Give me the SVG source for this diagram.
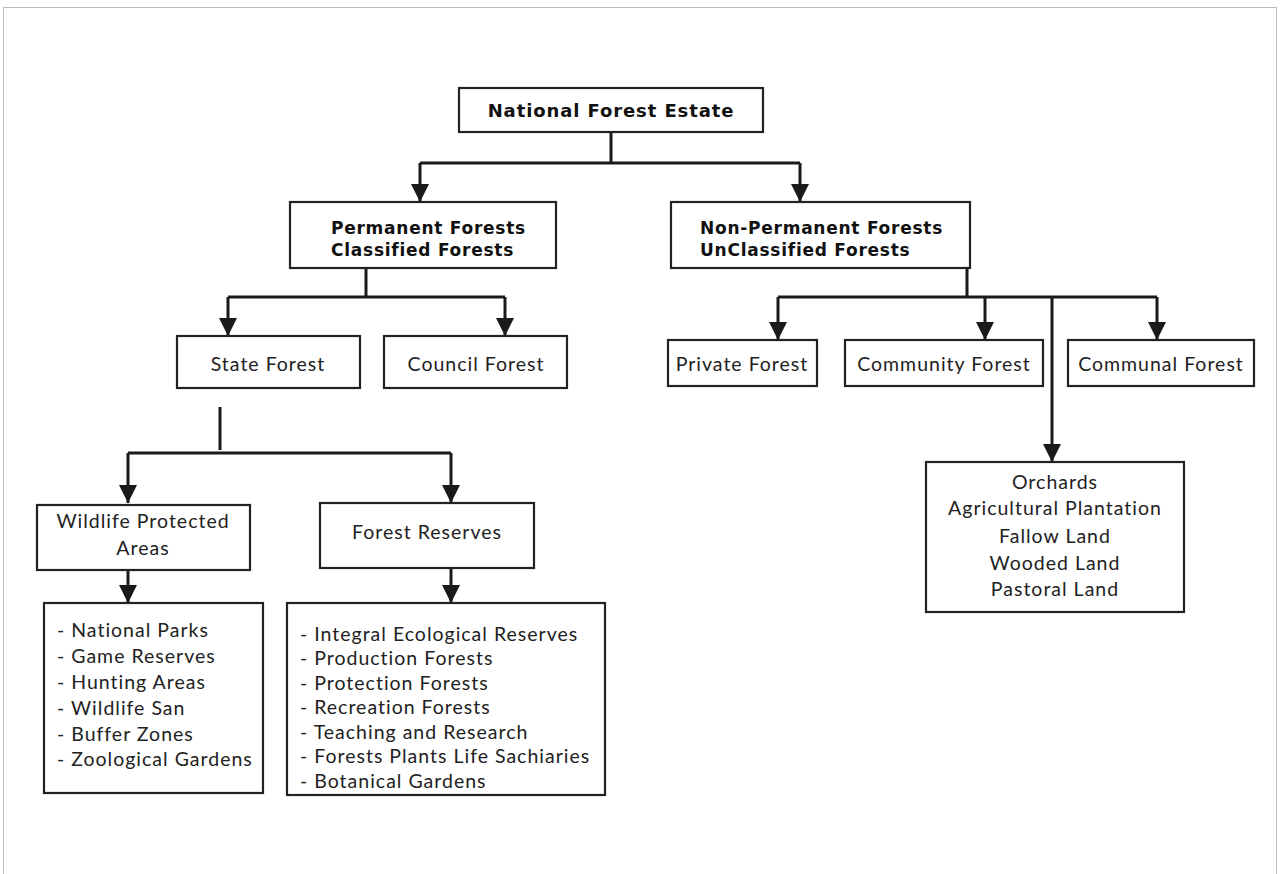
<svg xmlns="http://www.w3.org/2000/svg" width="1281" height="874" viewBox="0 0 1281 874">
<defs>
<style>
.box{fill:#fff;stroke:#222;stroke-width:2.2}
.t{font-family:Lato,"Open Sans",sans-serif;font-size:19.5px;letter-spacing:1px;fill:#222}
.b{font-family:"DejaVu Sans","Open Sans",sans-serif;font-size:17px;letter-spacing:0.75px;font-weight:bold;fill:#111}
.c{text-anchor:middle}
.ln{fill:none;stroke:#1a1a1a;stroke-width:3}
.ar{fill:none;stroke:#1a1a1a;stroke-width:3;marker-end:url(#ah)}
</style>
<marker id="ah" viewBox="0 0 18 18" refX="18" refY="9" markerWidth="18" markerHeight="18" markerUnits="userSpaceOnUse" orient="auto">
<path d="M0,0 L18,9 L0,18 z" fill="#1a1a1a"/>
</marker>
</defs>
<rect x="0" y="0" width="1281" height="874" fill="#fff"/>
<rect x="3.5" y="7.5" width="1273" height="880" fill="none" stroke="#bdbdbd" stroke-width="1"/>

<g id="connectors">
<path class="ln" d="M611,132 V163 M420,163 H800"/>
<path class="ar" d="M420,163 V202"/>
<path class="ar" d="M800,163 V202"/>
<path class="ln" d="M366,268 V297 M228,297 H505"/>
<path class="ar" d="M228,297 V336"/>
<path class="ar" d="M505,297 V336"/>
<path class="ln" d="M220,407 V450 M128,453 H451"/>
<path class="ar" d="M128,453 V503"/>
<path class="ar" d="M451,453 V503"/>
<path class="ar" d="M128,570 V603"/>
<path class="ar" d="M451,568 V603"/>
<path class="ln" d="M967,268 V297 M778,297 H1157"/>
<path class="ar" d="M778,297 V340"/>
<path class="ar" d="M985,297 V340"/>
<path class="ar" d="M1157,297 V340"/>
<path class="ar" d="M1052,297 V462"/>
</g>

<g id="national-forest-estate">
<rect class="box" x="459" y="88" width="304" height="44"/>
<text class="b c" x="611" y="117" style="font-size:18px;letter-spacing:0.9px">National Forest Estate</text>
</g>
<g id="permanent-forests">
<rect class="box" x="290" y="202" width="266" height="66"/>
<text class="b" x="331" y="234">Permanent Forests</text>
<text class="b" x="331" y="256">Classified Forests</text>
</g>
<g id="non-permanent-forests">
<rect class="box" x="671" y="202" width="299" height="66"/>
<text class="b" x="700" y="234">Non-Permanent Forests</text>
<text class="b" x="700" y="256">UnClassified Forests</text>
</g>
<g id="state-forest">
<rect class="box" x="177" y="336" width="183" height="52"/>
<text class="t c" x="268" y="371">State Forest</text>
</g>
<g id="council-forest">
<rect class="box" x="384" y="336" width="183" height="52"/>
<text class="t c" x="476" y="371">Council Forest</text>
</g>
<g id="private-forest">
<rect class="box" x="668" y="340" width="149" height="46"/>
<text class="t c" x="742" y="371">Private Forest</text>
</g>
<g id="community-forest">
<rect class="box" x="845" y="340" width="198" height="46"/>
<text class="t c" x="944" y="371">Community Forest</text>
</g>
<g id="communal-forest">
<rect class="box" x="1068" y="340" width="186" height="46"/>
<text class="t c" x="1161" y="371">Communal Forest</text>
</g>
<g id="wildlife-protected-areas">
<rect class="box" x="37" y="505" width="213" height="65"/>
<text class="t c" x="143" y="528">Wildlife Protected</text>
<text class="t c" x="143" y="555">Areas</text>
</g>
<g id="forest-reserves">
<rect class="box" x="320" y="503" width="214" height="65"/>
<text class="t c" x="427" y="539">Forest Reserves</text>
</g>
<g id="wildlife-list">
<rect class="box" x="44" y="603" width="219" height="190"/>
<text class="t" x="57" y="637">- National Parks</text>
<text class="t" x="57" y="663">- Game Reserves</text>
<text class="t" x="57" y="689">- Hunting Areas</text>
<text class="t" x="57" y="715">- Wildlife San</text>
<text class="t" x="57" y="741">- Buffer Zones</text>
<text class="t" x="57" y="766">- Zoological Gardens</text>
</g>
<g id="reserves-list">
<rect class="box" x="287" y="603" width="318" height="192"/>
<text class="t" x="300" y="641">- Integral Ecological Reserves</text>
<text class="t" x="300" y="665">- Production Forests</text>
<text class="t" x="300" y="690">- Protection Forests</text>
<text class="t" x="300" y="714">- Recreation Forests</text>
<text class="t" x="300" y="739">- Teaching and Research</text>
<text class="t" x="300" y="763">- Forests Plants Life Sachiaries</text>
<text class="t" x="300" y="788">- Botanical Gardens</text>
</g>
<g id="non-forest-land">
<rect class="box" x="926" y="462" width="258" height="150"/>
<text class="t c" x="1055" y="489">Orchards</text>
<text class="t c" x="1055" y="515">Agricultural Plantation</text>
<text class="t c" x="1055" y="543">Fallow Land</text>
<text class="t c" x="1055" y="570">Wooded Land</text>
<text class="t c" x="1055" y="596">Pastoral Land</text>
</g>
</svg>
